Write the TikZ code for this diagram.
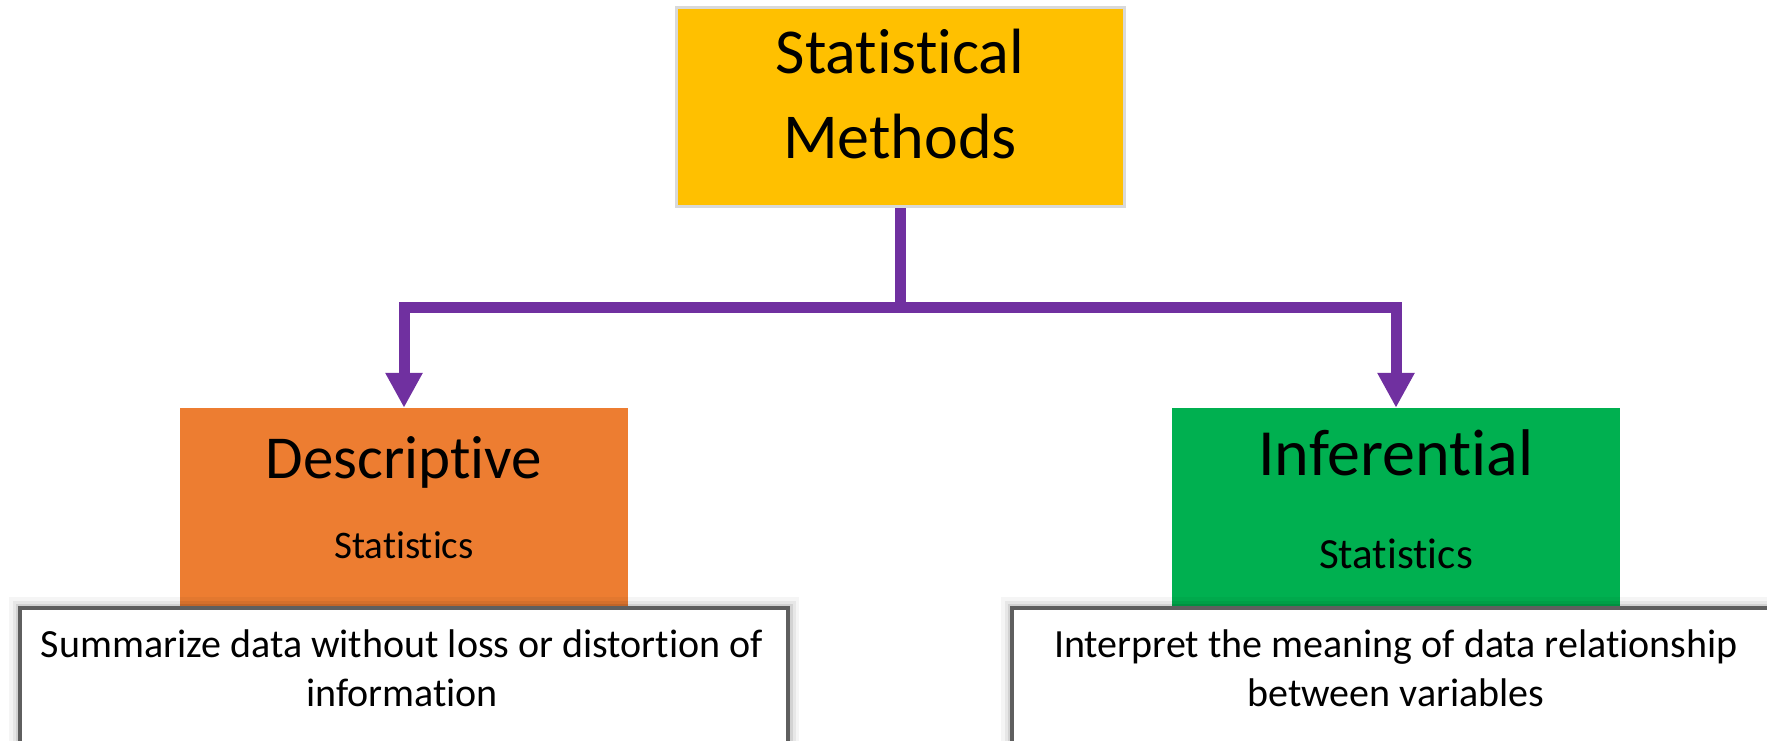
\documentclass[tikz,border=0pt]{standalone}
\usepackage{fontspec}
\setmainfont{Carlito}[Ligatures=NoCommon]
\usepackage{tikz}
\usetikzlibrary{positioning,arrows.meta}
\definecolor{methodgold}{HTML}{FFC000}
\definecolor{descorange}{HTML}{ED7D31}
\definecolor{infergreen}{HTML}{00B050}
\definecolor{linkpurple}{HTML}{7030A0}
\definecolor{noterim}{HTML}{5F5F5F}
\tikzset{
  % --- boxes -----------------------------------------------------------------
  headbox/.style={rectangle,draw=black!15,line width=3pt,fill=methodgold,
                  minimum width=448pt,minimum height=199pt,inner sep=0pt},
  kindbox/.style={rectangle,fill=#1,minimum width=448pt,minimum height=200pt,
                  inner sep=0pt},
  % soft glow round the note boxes, drawn before the white fill covers its inner half
  notebox/.style={rectangle,fill=white,draw=noterim,line width=3.5pt,
                  minimum width=#1,minimum height=192pt,inner sep=0pt,
                  preaction={draw=black,opacity=0.04,line width=22pt},
                  preaction={draw=black,opacity=0.06,line width=15pt},
                  preaction={draw=black,opacity=0.09,line width=9pt}},
  % --- texts (base = baseline of the last line) ------------------------------
  txt/.style={anchor=base,align=center,inner sep=0pt,text=black},
  % --- connectors ------------------------------------------------------------
  link/.style={linkpurple,line width=11pt},
  linkarrow/.style={link,-{Triangle[length=35pt,width=35pt]}},
}

\begin{document}
\begin{tikzpicture}[x=1pt,y=-1pt]
  \useasboundingbox (0,0) rectangle (1767,741);
  \clip (0,0) rectangle (1767,741);

  \node[headbox] (methods) at (900,107) {};
  \node[txt,font=\fontsize{64}{85}\selectfont] (methodstxt) at (900,158)
       {Statistical\\Methods};

  % {name}{centre}{fill}{kind}{size}{base}{size}{base}
  \foreach \name/\x/\col/\kind/\ks/\ky/\ss/\sy in {%
      desc/404/descorange/Descriptive/61/478/39/558,
      infer/1396/infergreen/Inferential/66/475/43/568}
  {
    \node[kindbox=\col] (\name) at (\x,508) {};
    \node[txt,font=\fontsize{\ks}{\ks}\selectfont] (\name kind) at (\x,\ky) {\kind};
    \node[txt,font=\fontsize{\ss}{\ss}\selectfont] (\name stat) at (\x,\sy) {Statistics};
  }

  % the notes lie over the lower edge of the coloured boxes
  \node[notebox=768pt] (descnote) at (404,704) {};
  \node[notebox=788pt] (infernote) at (1406,704) {};
  \node[txt,font=\fontsize{40}{49}\selectfont] (descnotetxt) at (402,706)
       {Summarize data without loss or distortion of\\information};
  \node[txt,font=\fontsize{40}{49}\selectfont] (infernotetxt) at (1396,706)
       {Interpret the meaning of data relationship\\between variables};

  \coordinate (split) at (900,307.5);
  \draw[link] (methods.south) -- (split);
  \draw[linkarrow] (split) -| (desc.north);
  \draw[linkarrow] (split) -| (infer.north);
\end{tikzpicture}
\end{document}
